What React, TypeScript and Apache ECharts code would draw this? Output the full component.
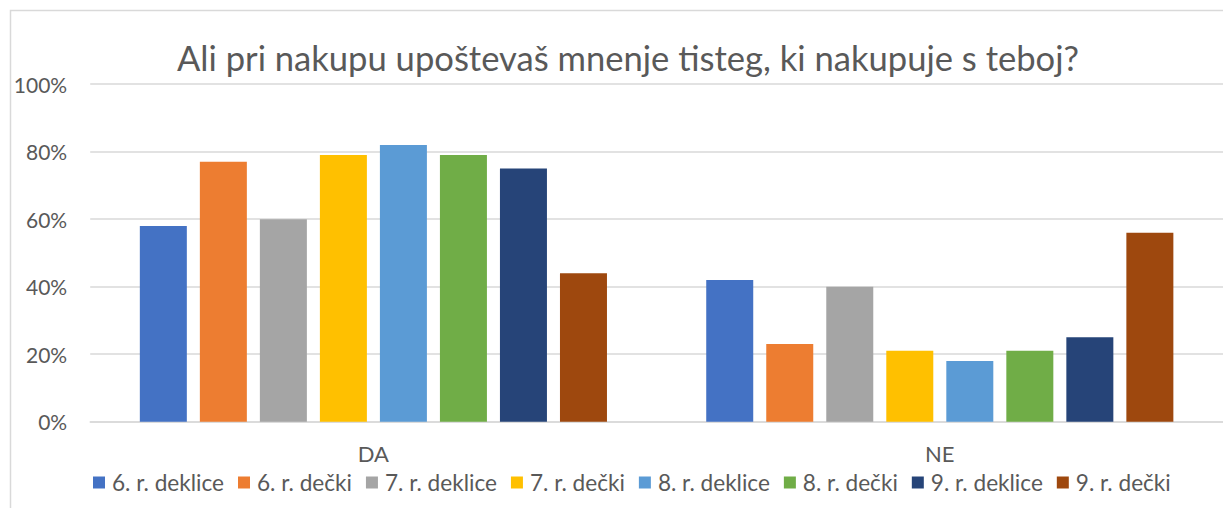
import React, { useEffect, useRef } from "react";
import * as echarts from "echarts";

const TITLE = "Ali pri nakupu upoštevaš mnenje tisteg, ki nakupuje s teboj?";
const categories = ["DA", "NE"];
const seriesNames = [
  "6. r. deklice",
  "6. r. dečki",
  "7. r. deklice",
  "7. r. dečki",
  "8. r. deklice",
  "8. r. dečki",
  "9. r. deklice",
  "9. r. dečki",
];
const daValues = [58, 77, 60, 79, 82, 79, 75, 44];
const neValues = [42, 23, 40, 21, 18, 21, 25, 56];
const colors = ["#4472C4", "#ED7D31", "#A5A5A5", "#FFC000", "#5B9BD5", "#70AD47", "#264478", "#9E480E"];
const yTicks = [0, 20, 40, 60, 80, 100];

const FONT = "Lato, 'Noto Sans', sans-serif";

export default function App() {
  const ref = useRef<HTMLDivElement>(null);
  useEffect(() => {
    if (!ref.current) return;
    const chart = echarts.init(ref.current, null, { renderer: "svg" });
    chart.setOption({
      animation: false,
      backgroundColor: "#ffffff",
      color: colors,
      textStyle: { fontFamily: FONT },
      title: {
        text: TITLE,
        left: 623,
        textAlign: "center",
        top: 35,
        textStyle: { fontFamily: FONT, fontSize: 34.6, fontWeight: "normal", color: "#595959" },
      },
      graphic: [
        {
          type: "rect",
          shape: { x: 10.5, y: 10.5, width: 1240, height: 520 },
          style: { fill: "none", stroke: "#D9D9D9", lineWidth: 1.5 },
          silent: true,
        },
      ],
      legend: {
        data: seriesNames,
        left: 88,
        top: 466,
        itemWidth: 12,
        itemHeight: 12,
        itemGap: 14,
        icon: "rect",
        textStyle: { fontFamily: FONT, fontSize: 22.6, color: "#595959", padding: [0, 0, 0, 2] },
      },
      grid: { left: 90.2, top: 84.2, width: 1140, height: 337.5, containLabel: false },
      xAxis: {
        type: "category",
        data: categories,
        axisLine: { lineStyle: { color: "#D9D9D9", width: 1.5 } },
        axisTick: { show: false },
        axisLabel: { fontFamily: FONT, fontSize: 22, color: "#595959", margin: 21 },
      },
      yAxis: {
        type: "value",
        min: yTicks[0],
        max: yTicks[yTicks.length - 1],
        interval: 20,
        axisLine: { show: false },
        axisTick: { show: false },
        splitLine: { lineStyle: { color: "#D9D9D9", width: 1.5 } },
        axisLabel: {
          fontFamily: FONT,
          fontSize: 21,
          color: "#595959",
          margin: 23,
          formatter: (v: number) => v + "%",
        },
      },
      series: seriesNames.map((name, i) => ({
        name,
        type: "bar",
        data: [daValues[i], neValues[i]],
        barWidth: 47,
        barGap: "27.7%",
        itemStyle: { color: colors[i] },
      })),
    });
    return () => chart.dispose();
  }, []);
  return (
    <div
      ref={ref}
      style={{ position: "fixed", left: 0, top: 0, width: 1223, height: 508, overflow: "hidden" }}
    />
  );
}
